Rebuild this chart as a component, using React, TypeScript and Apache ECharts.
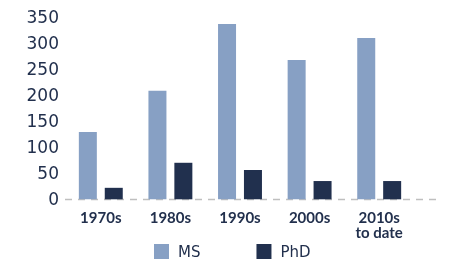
import React, { useEffect, useRef } from "react";
import * as echarts from "echarts";

const categories = ["1970s", "1980s", "1990s", "2000s", "2010s\nto date"];
const msValues = [129, 208, 336, 267, 309];
const phdValues = [22, 70, 56, 35, 35];
const seriesNames = ["MS", "PhD"];

const TEXT = "#22304d";

export default function App() {
  const ref = useRef<HTMLDivElement>(null);
  useEffect(() => {
    if (!ref.current) return;
    const chart = echarts.init(ref.current, undefined, { renderer: "svg" });
    chart.setOption({
      animation: false,
      grid: { left: 66, right: 37, top: 16.7, bottom: 62.7, containLabel: false },
      legend: {
        data: seriesNames,
        left: 154,
        top: 244,
        itemWidth: 15,
        itemHeight: 15,
        itemGap: 56,
        icon: "rect",
        padding: 0,
        textStyle: { color: TEXT, fontSize: 15, fontFamily: "DejaVu Sans", padding: [0, 0, 0, 4] },
      },
      xAxis: {
        type: "category",
        data: categories,
        axisLine: { show: false },
        axisTick: { show: false },
        axisLabel: {
          color: TEXT,
          fontSize: 15,
          fontWeight: "bold",
          fontFamily: "Lato",
          lineHeight: 15,
          margin: 10.5,
        },
      },
      yAxis: {
        type: "value",
        min: 0,
        max: 350,
        interval: 50,
        axisLine: { show: false },
        axisTick: { show: false },
        splitLine: { show: false },
        axisLabel: { color: TEXT, fontSize: 17, fontFamily: "DejaVu Sans", margin: 7 },
      },
      graphic: [
        {
          type: "line",
          shape: { x1: 65, y1: 199.5, x2: 440, y2: 199.5 },
          style: { stroke: "#bfbfbf", lineWidth: 1.5, lineDash: [7, 6] },
          z: -1,
        },
      ],
      series: [
        {
          name: seriesNames[0],
          type: "bar",
          data: msValues,
          barWidth: 18,
          barGap: "44%",
          itemStyle: { color: "#87a0c4" },
        },
        {
          name: seriesNames[1],
          type: "bar",
          data: phdValues,
          barWidth: 18,
          itemStyle: { color: "#21304e" },
        },
      ],
    });
    return () => chart.dispose();
  }, []);
  return <div ref={ref} style={{ position: "fixed", left: 0, top: 0, width: 451, height: 262 }} />;
}
